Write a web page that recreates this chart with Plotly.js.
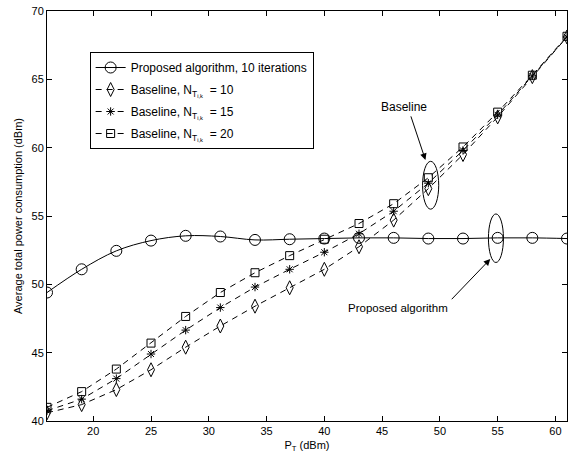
<!DOCTYPE html>
<html>
<head>
<meta charset="utf-8">
<script src="https://cdn.plot.ly/plotly-3.0.1.min.js"></script>
<style>html,body{margin:0;padding:0;background:#fff;}#chart{width:572px;height:453px;}</style>
</head>
<body>
<div id="chart"></div>
<script>
const xPT = [16, 19, 22, 25, 28, 31, 34, 37, 40, 43, 46, 49, 52, 55, 58, 61];
const proposed = [49.4, 51.1, 52.45, 53.2, 53.55, 53.5, 53.25, 53.3, 53.35, 53.4, 53.4, 53.35, 53.35, 53.4, 53.4, 53.35];
const base10 = [40.6, 41.2, 42.3, 43.75, 45.4, 46.95, 48.4, 49.75, 51.1, 52.75, 54.7, 57.0, 59.5, 62.25, 65.2, 68.1];
const base15 = [40.75, 41.6, 43.1, 44.9, 46.65, 48.3, 49.8, 51.1, 52.35, 53.7, 55.35, 57.4, 59.8, 62.4, 65.25, 68.1];
const base20 = [41.0, 42.15, 43.8, 45.7, 47.65, 49.4, 50.85, 52.1, 53.3, 54.45, 55.9, 57.8, 60.05, 62.6, 65.3, 68.15];
const seriesNames = [
  "Proposed algorithm, 10 iterations",
  "Baseline, N<sub>T<sub>i,k</sub></sub>  = 10",
  "Baseline, N<sub>T<sub>i,k</sub></sub>  = 15",
  "Baseline, N<sub>T<sub>i,k</sub></sub>  = 20"
];
const xTicks = [20, 25, 30, 35, 40, 45, 50, 55, 60];
const yTicks = [40, 45, 50, 55, 60, 65, 70];

const dashStyle = "6px,5px";
const traces = [
  {x: xPT, y: proposed, name: seriesNames[0], legendgroup: "g0", mode: "lines+markers",
   line: {color: "#000", width: 1, shape: "spline"},
   marker: {symbol: "circle-open", size: 11, color: "#000", line: {width: 1}}},
  {x: xPT, y: base10, name: seriesNames[1], legendgroup: "g1", mode: "lines+markers",
   line: {color: "#000", width: 1, dash: dashStyle},
   marker: {symbol: "diamond-tall-open", size: 10, color: "#000", line: {width: 1}}},
  {x: xPT, y: base15, name: seriesNames[2], legendgroup: "g2", mode: "lines+markers",
   line: {color: "#000", width: 1, dash: dashStyle},
   marker: {symbol: "asterisk-open", size: 7, color: "#000", line: {width: 1}}},
  {x: xPT, y: base20, name: seriesNames[3], legendgroup: "g3", mode: "lines+markers",
   line: {color: "#000", width: 1, dash: dashStyle},
   marker: {symbol: "square-open", size: 8, color: "#000", line: {width: 1}}}
];

const axisCommon = {
  showline: true, mirror: "ticks", linecolor: "#000", linewidth: 1,
  ticks: "inside", ticklen: 5, tickcolor: "#000", showgrid: false, zeroline: false,
  tickfont: {family: "Liberation Sans, Arial, sans-serif", size: 11, color: "#000"}
};

const layout = {
  width: 572, height: 453,
  margin: {l: 47, r: 5, t: 11, b: 32},
  paper_bgcolor: "#fff", plot_bgcolor: "#fff",
  font: {family: "Liberation Sans, Arial, sans-serif", size: 11, color: "#000"},
  xaxis: Object.assign({}, axisCommon, {range: [16, 61], tickvals: xTicks,
    title: {text: "P<sub>T</sub> (dBm)", standoff: 5, font: {size: 11}}}),
  yaxis: Object.assign({}, axisCommon, {range: [40, 70], tickvals: yTicks,
    title: {text: "Average total power consumption (dBm)", standoff: 6, font: {size: 11}}}),
  showlegend: true,
  legend: {x: 0.082, y: 0.9, xanchor: "left", yanchor: "top", traceorder: "grouped",
    bgcolor: "#fff", bordercolor: "#000", borderwidth: 1,
    font: {size: 12}, tracegroupgap: 3, itemwidth: 30},
  shapes: [
    {type: "circle", xref: "x", yref: "y", x0: 48.5, x1: 49.9, y0: 55.5, y1: 59.0,
     line: {color: "#000", width: 1}},
    {type: "circle", xref: "x", yref: "y", x0: 54.2, x1: 55.5, y0: 51.6, y1: 55.15,
     line: {color: "#000", width: 1}}
  ],
  annotations: [
    {x: 48.75, y: 59.1, xref: "x", yref: "y", ax: 47.45, ay: 62.4, axref: "x", ayref: "y",
     text: "", showarrow: true, arrowhead: 2, arrowsize: 1.3, arrowwidth: 1, arrowcolor: "#000"},
    {x: 46.9, y: 62.95, xref: "x", yref: "y", text: "Baseline", showarrow: false,
     font: {size: 12}},
    {x: 54.36, y: 51.85, xref: "x", yref: "y", ax: 50.9, ay: 48.8, axref: "x", ayref: "y",
     text: "", showarrow: true, arrowhead: 2, arrowsize: 1.3, arrowwidth: 1, arrowcolor: "#000"},
    {x: 46.4, y: 48.27, xref: "x", yref: "y", text: "Proposed algorithm", showarrow: false,
     font: {size: 11.5}}
  ]
};

Plotly.newPlot("chart", traces, layout, {displayModeBar: false, staticPlot: true});
</script>
</body>
</html>
